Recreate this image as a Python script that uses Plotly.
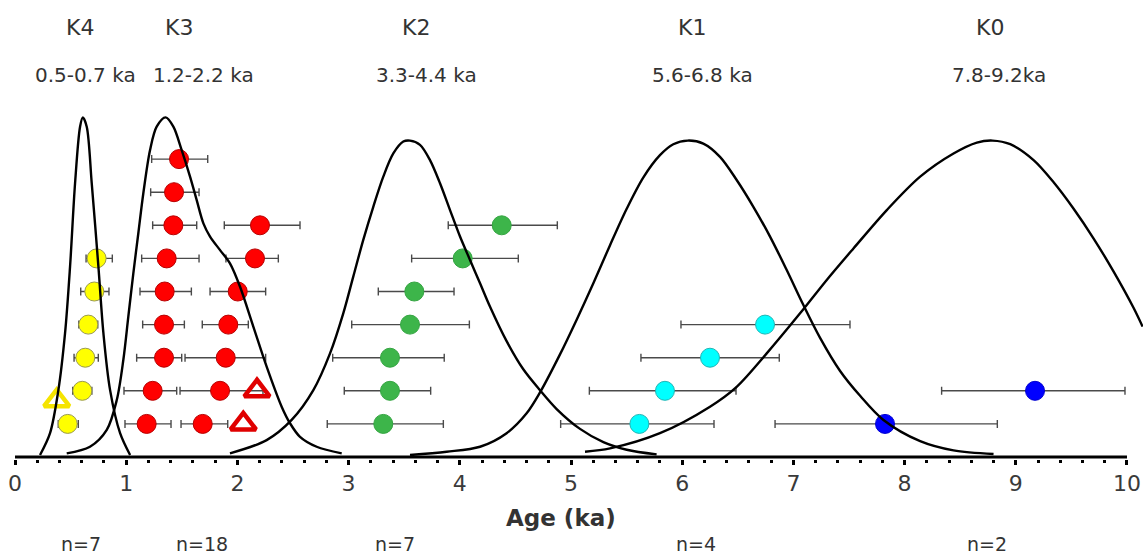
import plotly.graph_objects as go

# ---------------- data ----------------
# Sample ages (ka), row index (vertical stacking), asymmetric errors (ka)
k4_age = [0.474, 0.605, 0.632, 0.659, 0.713, 0.734]
k4_row = [1, 2, 3, 4, 5, 6]
k4_err_minus = [0.085, 0.086, 0.101, 0.085, 0.122, 0.095]
k4_err_plus = [0.095, 0.086, 0.117, 0.085, 0.132, 0.141]

k3_age = [1.184, 1.238, 1.340, 1.340, 1.346, 1.364, 1.424, 1.430, 1.475,
          1.688, 1.844, 1.895, 1.918, 2.003, 2.158, 2.203]
k3_row = [1, 2, 3, 4, 5, 6, 7, 8, 9,
          1, 2, 3, 4, 5, 6, 7]
k3_err_minus = [0.195, 0.258, 0.246, 0.192, 0.222, 0.225, 0.186, 0.210, 0.246,
                0.195, 0.360, 0.366, 0.234, 0.249, 0.261, 0.321]
k3_err_plus = [0.219, 0.216, 0.159, 0.183, 0.240, 0.291, 0.210, 0.225, 0.258,
               0.225, 0.386, 0.359, 0.180, 0.251, 0.210, 0.360]

k2_age = [3.312, 3.372, 3.372, 3.552, 3.591, 4.026, 4.377]
k2_row = [1, 2, 3, 4, 5, 6, 7]
k2_err_minus = [0.504, 0.411, 0.515, 0.524, 0.324, 0.459, 0.481]
k2_err_plus = [0.540, 0.366, 0.488, 0.534, 0.357, 0.500, 0.500]

k1_age = [5.615, 5.845, 6.250, 6.745]
k1_row = [1, 2, 3, 4]
k1_err_minus = [0.708, 0.680, 0.621, 0.756]
k1_err_plus = [0.671, 0.639, 0.623, 0.764]

k0_age = [7.824, 9.173]
k0_row = [1, 2]
k0_err_minus = [0.989, 0.840]
k0_err_plus = [1.010, 0.809]

# open-triangle samples
k4_tri_age = [0.375]
k4_tri_row = [1.7]
k3_tri_age = [2.053, 2.176]
k3_tri_row = [1.0, 2.0]

# probability-density curves (age, relative density)
k4_curve_x = [0.225, 0.315, 0.39, 0.45, 0.495, 0.54, 0.585, 0.61, 0.645, 0.69,
              0.75, 0.795, 0.855, 0.945, 1.035]
k4_curve_y = [0.06, 0.72, 2.02, 3.74, 5.75, 8.27, 9.98, 10.26, 9.98, 8.27,
              5.75, 3.74, 2.02, 0.72, 0.06]

k3_curve_x = [0.465, 0.674, 0.825, 0.915, 0.974, 1.019, 1.064, 1.109, 1.154, 1.214,
              1.274, 1.355, 1.424, 1.499, 1.574, 1.634, 1.694, 1.754, 1.844, 1.933,
              2.023, 2.143, 2.263, 2.398, 2.473, 2.563, 2.713, 2.938]
k3_curve_y = [0.11, 0.31, 0.82, 1.72, 2.93, 4.24, 5.55, 6.76, 7.97, 9.27,
              9.98, 10.26, 9.98, 9.27, 8.47, 7.76, 7.06, 6.66, 6.25, 5.85,
              5.15, 3.94, 2.73, 1.52, 1.02, 0.61, 0.31, 0.11]

k2_curve_x = [1.933, 2.263, 2.488, 2.683, 2.833, 2.952, 3.042, 3.132, 3.222, 3.312,
              3.402, 3.492, 3.552, 3.642, 3.732, 3.822, 3.912, 4.002, 4.092, 4.182,
              4.272, 4.421, 4.571, 4.721, 4.871, 5.081, 5.291, 5.501, 5.77]
k2_curve_y = [0.11, 0.51, 1.12, 2.02, 3.13, 4.34, 5.45, 6.56, 7.56, 8.47,
              9.17, 9.53, 9.56, 9.43, 8.97, 8.27, 7.46, 6.66, 5.95, 5.25,
              4.54, 3.50, 2.65, 2.02, 1.45, 0.85, 0.45, 0.22, 0.08]

k1_curve_x = [3.552, 3.882, 4.182, 4.421, 4.601, 4.721, 4.901, 5.051, 5.201, 5.351,
              5.501, 5.651, 5.80, 5.92, 6.05, 6.19, 6.34, 6.49, 6.64, 6.79,
              6.94, 7.09, 7.24, 7.42, 7.60, 7.81, 8.14, 8.44, 8.80]
k1_curve_y = [0.06, 0.16, 0.31, 0.72, 1.32, 1.95, 3.10, 4.15, 5.25, 6.40,
              7.50, 8.45, 9.12, 9.45, 9.56, 9.47, 9.07, 8.37, 7.56, 6.66,
              5.65, 4.59, 3.60, 2.60, 1.85, 1.12, 0.48, 0.20, 0.09]

k0_curve_x = [5.126, 5.351, 5.80, 6.25, 6.49, 6.76, 7.06, 7.30, 7.54, 7.84,
              8.14, 8.44, 8.65, 8.79, 8.95, 9.16, 9.34, 9.52, 9.70, 9.88,
              10.06, 10.14]
k0_curve_y = [0.16, 0.26, 0.72, 1.52, 2.12, 3.13, 4.34, 5.35, 6.30, 7.46,
              8.47, 9.17, 9.50, 9.56, 9.45, 8.97, 8.30, 7.50, 6.60, 5.60,
              4.50, 3.94]

# labels
group_names = ["K4", "K3", "K2", "K1", "K0"]
group_ranges = ["0.5-0.7 ka", "1.2-2.2 ka", "3.3-4.4 ka", "5.6-6.8 ka", "7.8-9.2ka"]
group_counts = ["n=7", "n=18", "n=7", "n=4", "n=2"]
axis_title = "Age (ka)"

# label placement (x in ka)
name_pos = [0.58, 1.479, 3.606, 6.088, 8.768]
range_pos = [0.638, 1.693, 3.702, 6.187, 8.849]
count_pos = [0.596, 1.686, 3.417, 6.121, 8.737]

# ---------------- figure ----------------
FONT = "DejaVu Sans"
TXT = "#333333"
fig = go.Figure()

def dots(age, row, em, ep, fill, edge):
    fig.add_trace(go.Scatter(
        x=age, y=row, mode="markers",
        marker=dict(size=19, color=fill, line=dict(color=edge, width=1)),
        error_x=dict(type="data", symmetric=False, array=ep, arrayminus=em,
                     color="#4a4a4a", thickness=1.4, width=4),
        showlegend=False, hoverinfo="x"))

dots(k4_age, k4_row, k4_err_minus, k4_err_plus, "#ffff00", "#9a9a50")
dots(k3_age, k3_row, k3_err_minus, k3_err_plus, "#ff0000", "#b80000")
dots(k2_age, k2_row, k2_err_minus, k2_err_plus, "#3db54a", "#35a542")
dots(k1_age, k1_row, k1_err_minus, k1_err_plus, "#00ffff", "#22b5b5")
dots(k0_age, k0_row, k0_err_minus, k0_err_plus, "#0000ff", "#0000d0")

for ta, tr, col in [(k4_tri_age, k4_tri_row, "#f5e400"), (k3_tri_age, k3_tri_row, "#e00000")]:
    fig.add_trace(go.Scatter(
        x=ta, y=tr, mode="markers",
        marker=dict(symbol="triangle-up-open", size=22, color=col,
                    line=dict(color=col, width=4.5)),
        showlegend=False, hoverinfo="x"))

for cx, cy in [(k4_curve_x, k4_curve_y), (k3_curve_x, k3_curve_y),
               (k2_curve_x, k2_curve_y), (k1_curve_x, k1_curve_y),
               (k0_curve_x, k0_curve_y)]:
    fig.add_trace(go.Scatter(
        x=cx, y=cy, mode="lines",
        line=dict(color="black", width=2.4, shape="spline", smoothing=0.9),
        showlegend=False, hoverinfo="skip"))

# axis base line from 0 to 10 ka
fig.add_shape(type="line", xref="x", yref="y", x0=0, x1=10, y0=0, y1=0,
              line=dict(color="black", width=3))

# paper-y of a pixel row (plot area spans page rows 0..459)
def py(p):
    return (459.0 - p) / 459.0

ann = []
for name, xp in zip(group_names, name_pos):
    ann.append(dict(x=xp, y=py(27), text=name, yanchor="middle",
                    font=dict(size=22, color=TXT, family=FONT)))
for rng, xp in zip(group_ranges, range_pos):
    ann.append(dict(x=xp, y=py(75), text=rng, yanchor="middle",
                    font=dict(size=20, color=TXT, family=FONT)))
for cnt, xp in zip(group_counts, count_pos):
    ann.append(dict(x=xp, y=py(557), text=cnt, yanchor="bottom",
                    font=dict(size=19, color=TXT, family=FONT)))
ann.append(dict(x=4.91, y=py(518), text="<b>" + axis_title + "</b>", yanchor="middle",
                font=dict(size=23, color=TXT, family=FONT)))
for a in ann:
    a.update(xref="x", yref="paper", showarrow=False, xanchor="center")

fig.update_layout(
    width=1143, height=558,
    margin=dict(l=0, r=0, t=0, b=99),
    paper_bgcolor="white", plot_bgcolor="white",
    showlegend=False,
    annotations=ann,
    xaxis=dict(range=[-0.135, 10.144], tickmode="linear", tick0=0, dtick=1,
               ticks="outside", ticklen=5, tickwidth=2.6, tickcolor="black",
               minor=dict(ticks="outside", ticklen=3, tickwidth=2.6,
                          tickcolor="black", tick0=0, dtick=0.2),
               showline=False, zeroline=False, showgrid=False,
               tickfont=dict(size=22, color="#3a3a3a", family=FONT)),
    yaxis=dict(range=[-0.06, 13.807], visible=False, showgrid=False, zeroline=False),
)

fig.write_html("out.html")
